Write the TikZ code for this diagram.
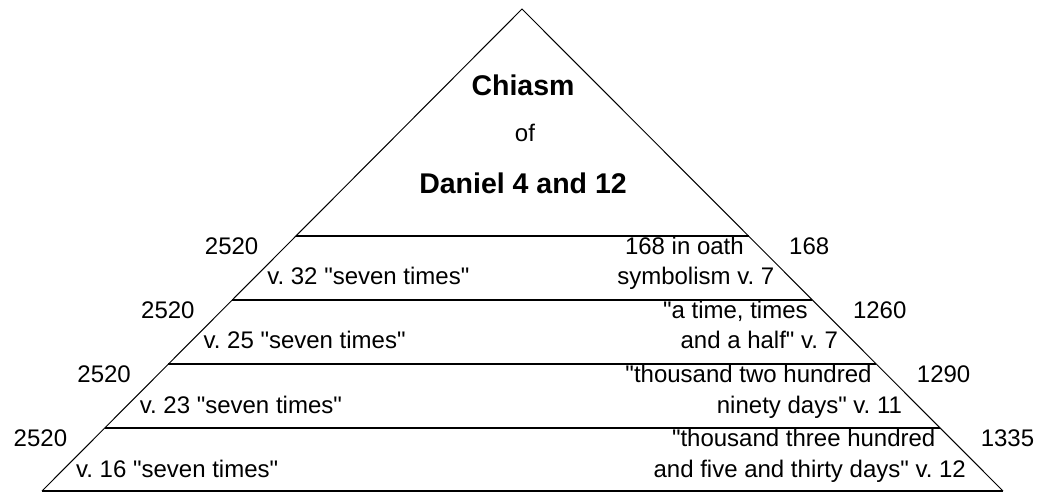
\documentclass[tikz,border=0pt]{standalone}
\usepackage{fontspec}
\setmainfont{Liberation Sans}
\newfontfamily\plainsans{Liberation Sans}
\usetikzlibrary{calc}

\begin{document}
\frenchspacing
\begin{tikzpicture}[x=1pt, y=-1pt,
    txt/.style={font=\plainsans\fontsize{24}{28}\selectfont, inner sep=0pt},
    ttl/.style={font=\plainsans\fontsize{28.5}{32}\selectfont\bfseries, inner sep=0pt, anchor=base}]
    \useasboundingbox (0,0) rectangle (1037,493);
    \coordinate (apex) at (522,9);
    \coordinate (baseL) at (42,491);
    \coordinate (baseR) at (1003,491);
    \draw[line width=1pt] (baseL) -- (apex) -- (baseR);
    \foreach \ytop in {236,300,364,428,491} {
        \draw[line width=1.3pt] ($(apex)!{(\ytop-9)/482}!(baseL)$) -- ($(apex)!{(\ytop-9)/482}!(baseR)$);
    }
    \node[ttl] (title) at (523,95) {Chiasm};
    \node[txt, anchor=base] (of) at (525,141.5) {of};
    \node[ttl] (book) at (523,193) {Daniel 4 and 12};
    \foreach \ytop/\vn/\ra/\rb/\val [count=\i] in {
        236/32/{168 in oath}/{symbolism v. 7}/168,
        300/25/{"a time, times}/{and a half" v. 7}/1260,
        364/23/{"thousand two hundred}/{ninety days" v. 11}/1290,
        428/16/{"thousand three hundred}/{and five and thirty days" v. 12}/1335} {
        \pgfmathsetmacro\ba{\ytop+26.5}
        \pgfmathsetmacro\bb{\ytop+57}
        \node[txt, anchor=base east] (lnum\i) at ($(apex)!{(\ba-17)/482}!(baseL)+(-19,0)$) {2520};
        \node[txt, anchor=base west] (verse\i) at ($(apex)!{(\bb-17)/482}!(baseL)+(20,0)$) {v. \vn{} "seven times"};
        \node[txt, anchor=base east] (ra\i) at ($(apex)!{(\ba-17)/482}!(baseR)+(-23,0)$) {\ra};
        \node[txt, anchor=base east] (rb\i) at ($(apex)!{(\bb-17)/482}!(baseR)+(-23,0)$) {\rb};
        \node[txt, anchor=base west] (rnum\i) at ($(apex)!{(\ba-17)/482}!(baseR)+(22,0)$) {\val};
    }
\end{tikzpicture}
\end{document}
